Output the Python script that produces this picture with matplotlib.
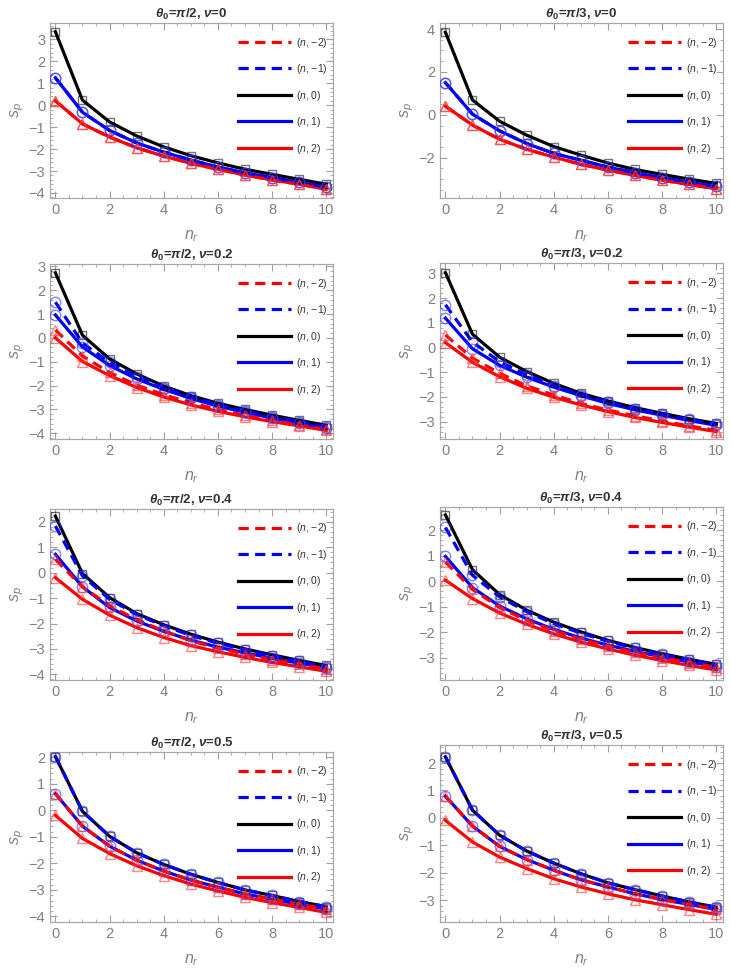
import numpy as np
import matplotlib.pyplot as plt
from matplotlib.ticker import MultipleLocator

plt.rcParams['font.family'] = ['Liberation Sans', 'DejaVu Sans']
plt.rcParams['mathtext.fontset'] = 'custom'
plt.rcParams['mathtext.rm'] = 'Liberation Sans'
plt.rcParams['mathtext.it'] = 'Liberation Sans:italic'
plt.rcParams['mathtext.bf'] = 'Liberation Sans:bold'
plt.rcParams['mathtext.bfit'] = 'Liberation Sans:bold:italic'

##### DATA #####
nr = np.arange(0, 11)

# theta0 = pi/2, nu = 0  (dashed curves lie under the solid ones)
p1_0 = [3.35, 0.23, -0.76, -1.40, -1.90, -2.30, -2.63, -2.92, -3.15, -3.38, -3.60]
p1_p1 = [1.25, -0.32, -1.15, -1.72, -2.14, -2.50, -2.82, -3.08, -3.30, -3.52, -3.72]
p1_p2 = [0.20, -0.85, -1.45, -1.94, -2.32, -2.65, -2.92, -3.18, -3.41, -3.60, -3.83]
p1_m1 = p1_p1
p1_m2 = p1_p2

# theta0 = pi/3, nu = 0
p2_0 = [3.85, 0.69, -0.30, -0.95, -1.48, -1.88, -2.25, -2.55, -2.78, -3.00, -3.20]
p2_p1 = [1.50, 0.03, -0.75, -1.34, -1.80, -2.12, -2.44, -2.70, -2.94, -3.14, -3.34]
p2_p2 = [0.40, -0.48, -1.14, -1.61, -1.97, -2.31, -2.58, -2.83, -3.05, -3.25, -3.45]
p2_m1 = p2_p1
p2_m2 = p2_p2

# theta0 = pi/2, nu = 0.2
p3_m2 = [0.33, -0.76, -1.45, -1.98, -2.38, -2.72, -3.00, -3.25, -3.46, -3.65, -3.84]
p3_m1 = [1.50, -0.22, -1.02, -1.62, -2.08, -2.47, -2.80, -3.07, -3.31, -3.52, -3.72]
p3_0 = [2.73, 0.11, -0.88, -1.51, -2.02, -2.42, -2.74, -3.00, -3.24, -3.46, -3.66]
p3_p1 = [0.96, -0.38, -1.16, -1.72, -2.16, -2.54, -2.86, -3.12, -3.36, -3.57, -3.77]
p3_p2 = [0.00, -0.99, -1.58, -2.08, -2.48, -2.81, -3.08, -3.31, -3.51, -3.69, -3.88]

# theta0 = pi/3, nu = 0.2
p4_m2 = [0.51, -0.43, -1.04, -1.55, -1.92, -2.26, -2.53, -2.76, -2.97, -3.17, -3.35]
p4_m1 = [1.73, 0.22, -0.57, -1.10, -1.54, -1.90, -2.20, -2.47, -2.70, -2.91, -3.11]
p4_0 = [3.03, 0.54, -0.39, -0.97, -1.45, -1.85, -2.16, -2.43, -2.66, -2.88, -3.07]
p4_p1 = [1.19, -0.05, -0.72, -1.20, -1.60, -1.95, -2.26, -2.52, -2.74, -2.95, -3.15]
p4_p2 = [0.20, -0.60, -1.18, -1.65, -2.01, -2.32, -2.59, -2.83, -3.03, -3.22, -3.40]

# theta0 = pi/2, nu = 0.4
p5_m2 = [0.52, -0.56, -1.30, -1.85, -2.29, -2.68, -2.97, -3.20, -3.42, -3.61, -3.79]
p5_m1 = [1.83, -0.13, -1.05, -1.65, -2.09, -2.47, -2.77, -3.04, -3.27, -3.49, -3.70]
p5_0 = [2.22, -0.04, -0.98, -1.61, -2.05, -2.42, -2.73, -3.00, -3.23, -3.45, -3.65]
p5_p1 = [0.72, -0.56, -1.37, -1.90, -2.31, -2.65, -2.93, -3.15, -3.37, -3.56, -3.74]
p5_p2 = [-0.20, -1.05, -1.67, -2.16, -2.55, -2.87, -3.11, -3.33, -3.53, -3.70, -3.88]

# theta0 = pi/3, nu = 0.4
p6_m2 = [0.75, -0.32, -1.03, -1.53, -1.93, -2.26, -2.54, -2.78, -2.99, -3.18, -3.36]
p6_m1 = [2.10, 0.23, -0.61, -1.19, -1.66, -2.03, -2.35, -2.62, -2.86, -3.07, -3.27]
p6_0 = [2.59, 0.45, -0.52, -1.13, -1.60, -1.98, -2.31, -2.59, -2.83, -3.05, -3.25]
p6_p1 = [0.97, -0.25, -0.97, -1.47, -1.88, -2.22, -2.50, -2.74, -2.96, -3.15, -3.34]
p6_p2 = [0.04, -0.68, -1.24, -1.68, -2.06, -2.38, -2.65, -2.89, -3.10, -3.29, -3.47]

# theta0 = pi/2, nu = 0.5  ((n,-1) sits on (n,0), (n,-2) sits on (n,1))
p7_0 = [2.03, -0.04, -0.98, -1.60, -2.04, -2.41, -2.72, -3.00, -3.21, -3.44, -3.63]
p7_p1 = [0.63, -0.60, -1.35, -1.88, -2.29, -2.63, -2.90, -3.15, -3.35, -3.54, -3.72]
p7_p2 = [-0.19, -1.06, -1.63, -2.09, -2.46, -2.78, -3.04, -3.28, -3.48, -3.66, -3.85]
p7_m1 = p7_0
p7_m2 = p7_p1

# theta0 = pi/3, nu = 0.5
p8_0 = [2.23, 0.28, -0.63, -1.21, -1.65, -2.04, -2.37, -2.62, -2.85, -3.07, -3.26]
p8_p1 = [0.79, -0.30, -1.04, -1.52, -1.91, -2.26, -2.52, -2.77, -2.98, -3.16, -3.34]
p8_p2 = [-0.09, -0.88, -1.43, -1.85, -2.22, -2.52, -2.77, -2.99, -3.17, -3.35, -3.52]
p8_m1 = p8_0
p8_m2 = p8_p1

thetas = ['2', '3']
nus = ['0', '0.2', '0.4', '0.5']

W, H = 731, 971
fig = plt.figure(figsize=(W / 100, H / 100), dpi=100)


def px_axes(left, right, top, bottom):
    return fig.add_axes([left / W, 1 - bottom / H, (right - left) / W, (bottom - top) / H])


def draw_panel(ax, m2, m1, z, p1, p2, theta, nu, ylim, ystep):
    lw = 2.3
    l_p2, = ax.plot(nr, p2, color='#ff0000', lw=lw, zorder=2, label='($n$, 2)')
    l_p1, = ax.plot(nr, p1, color='#0000ff', lw=lw, zorder=2, label='($n$, 1)')
    l_0, = ax.plot(nr, z, color='black', lw=lw, zorder=2, label='($n$, 0)')
    l_m1, = ax.plot(nr, m1, color='#0000ff', lw=lw, dashes=(3.2, 2), zorder=3, label='($n$, \u22121)')
    l_m2, = ax.plot(nr, m2, color='#ff0000', lw=lw, dashes=(3.2, 2), zorder=3, label='($n$, \u22122)')
    # markers
    ax.plot(nr, z, 's', mfc='none', mec=(0, 0, 0, 0.55), ms=5.5, mew=1, zorder=4)
    for s in [m1, p1]:
        ax.plot(nr, s, 'o', mfc='none', mec=(0.2, 0.2, 1, 0.6), ms=7.5, mew=1, zorder=4)
    for s in [m2, p2]:
        ax.plot(nr, s, '^', mfc='none', mec=(1, 0.2, 0.2, 0.6), ms=7.5, mew=1, zorder=4)

    ax.set_xlim(-0.2, 10.25)
    ax.set_ylim(ylim)
    ax.xaxis.set_major_locator(MultipleLocator(2))
    ax.xaxis.set_minor_locator(MultipleLocator(0.5))
    ax.yaxis.set_major_locator(MultipleLocator(ystep))
    ax.yaxis.set_minor_locator(MultipleLocator(0.5 if ystep == 2 else 0.2))
    ax.tick_params(which='both', direction='in', top=True, right=True,
                   color='#a0a0a0', labelcolor='#808080', labelsize=10.5)
    ax.tick_params(which='major', length=5, width=0.8)
    ax.tick_params(which='minor', length=2.5, width=0.6)
    for sp in ax.spines.values():
        sp.set_color('#a8a8a8')
        sp.set_linewidth(0.9)

    ax.set_title(r'$\mathbfit{\theta}_{\mathbf{0}}$=$\mathbfit{\pi}$/' + theta + r', $\mathbfit{\nu}$=' + nu,
                 fontsize=9.5, fontweight='bold', color='#333333', pad=4)
    ax.set_xlabel('$n_r$', fontsize=11.5, color='#808080', labelpad=8)
    ax.set_ylabel('$s_p$', fontsize=11.5, color='#808080', labelpad=2)
    ax.legend(handles=[l_m2, l_m1, l_0, l_p1, l_p2], loc='upper left',
              bbox_to_anchor=(0.665, 0.928), frameon=False, fontsize=7.5,
              handlelength=5.1, handletextpad=0.45, labelspacing=1.2,
              borderpad=0, borderaxespad=0, labelcolor='#333333')


ax1 = px_axes(50, 333, 23, 198)
draw_panel(ax1, p1_m2, p1_m1, p1_0, p1_p1, p1_p2, thetas[0], nus[0], (-4.23, 3.75), 1)
ax2 = px_axes(440, 723, 23, 198)
draw_panel(ax2, p2_m2, p2_m1, p2_0, p2_p1, p2_p2, thetas[1], nus[0], (-3.88, 4.28), 2)
ax3 = px_axes(50, 333, 264, 439)
draw_panel(ax3, p3_m2, p3_m1, p3_0, p3_p1, p3_p2, thetas[0], nus[1], (-4.24, 3.1), 1)
ax4 = px_axes(440, 723, 263, 439)
draw_panel(ax4, p4_m2, p4_m1, p4_0, p4_p1, p4_p2, thetas[1], nus[1], (-3.7, 3.42), 1)
ax5 = px_axes(50, 333, 509, 680)
draw_panel(ax5, p5_m2, p5_m1, p5_0, p5_p1, p5_p2, thetas[0], nus[2], (-4.22, 2.5), 1)
ax6 = px_axes(440, 723, 507, 680)
draw_panel(ax6, p6_m2, p6_m1, p6_0, p6_p1, p6_p2, thetas[1], nus[2], (-3.86, 2.9), 1)
ax7 = px_axes(50, 333, 752, 922)
draw_panel(ax7, p7_m2, p7_m1, p7_0, p7_p1, p7_p2, thetas[0], nus[3], (-4.21, 2.2), 1)
ax8 = px_axes(440, 723, 745, 922)
draw_panel(ax8, p8_m2, p8_m1, p8_0, p8_p1, p8_p2, thetas[1], nus[3], (-3.8, 2.66), 1)

fig.savefig('out.png', dpi=100)
